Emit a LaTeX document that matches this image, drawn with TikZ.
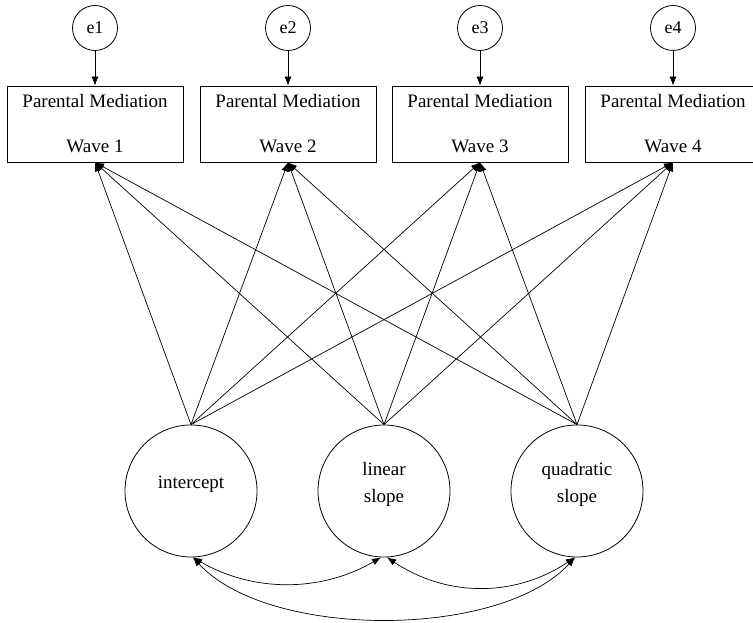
\documentclass[tikz,border=0pt]{standalone}
\usepackage{fontspec}
\setmainfont{Liberation Serif}
\usetikzlibrary{arrows.meta,shapes.geometric}
\begin{document}
\begin{tikzpicture}[x=1pt,y=-1pt,
  every node/.style={font=\fontsize{18}{22}\selectfont},
  errnode/.style={draw,circle,line width=0.8pt,minimum size=45pt,inner sep=0pt},
  obsbox/.style={draw,line width=0.8pt,minimum width=176pt,minimum height=76pt,align=center,inner sep=0pt,
     font=\fontsize{19}{45}\selectfont},
  latnode/.style={draw,circle,line width=0.8pt,minimum size=132pt,inner sep=0pt},
  lattext/.style={align=center,inner sep=0pt,font=\fontsize{19}{27}\selectfont},
  arr/.style={line width=0.7pt,-{Latex[length=9pt,width=7pt]}},
  darr/.style={line width=0.7pt,{Latex[length=9pt,width=7pt]}-{Latex[length=9pt,width=7pt]}}]
\useasboundingbox (0,0) rectangle (753,623);
% error terms
\node[errnode] (e1) at (95,28) {e1};
\node[errnode] (e2) at (288,28) {e2};
\node[errnode] (e3) at (480,28) {e3};
\node[errnode] (e4) at (673,28) {e4};
% observed boxes
\node[obsbox] (w1) at (95,124) {Parental Mediation\\Wave 1};
\node[obsbox] (w2) at (288,124) {Parental Mediation\\Wave 2};
\node[obsbox] (w3) at (480,124) {Parental Mediation\\Wave 3};
\node[obsbox] (w4) at (673,124) {Parental Mediation\\Wave 4};
% latent factors
\node[latnode] (ic) at (191,491) {};
\node[latnode] (ls) at (384,491) {};
\node[latnode] (qs) at (577,491) {};
\node[lattext] (ict) at (191,484) {intercept};
\node[lattext] (lst) at (384,484) {linear\\slope};
\node[lattext] (qst) at (577,484) {quadratic\\slope};
% error arrows
\foreach \i in {1,2,3,4}{
  \draw[arr] (e\i.south) -- (w\i.north);
}
% loadings
\foreach \f in {ic,ls,qs}{
  \foreach \i in {1,2,3,4}{
    \draw[arr] (\f.north) -- (w\i.south);
  }
}
% covariances
\coordinate (icb) at ([xshift=2pt]ic.south);
\coordinate (lsl) at ([xshift=-3pt]ls.south);
\coordinate (lsr) at ([xshift=3pt]ls.south);
\coordinate (qsb) at ([xshift=-2pt]qs.south);
\draw[darr] (icb) .. controls +(60,35) and +(-60,35) .. (lsl);
\draw[darr] (lsr) .. controls +(60,40) and +(-60,40) .. (qsb);
\draw[darr] (icb) .. controls +(75,82) and +(-75,82) .. (qsb);
\end{tikzpicture}
\end{document}
